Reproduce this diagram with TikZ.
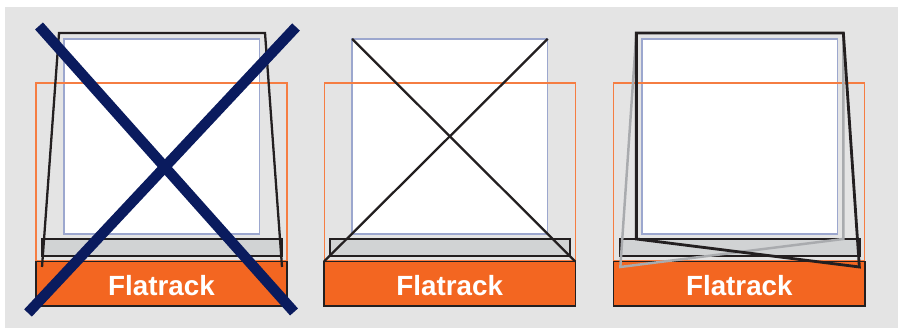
\documentclass[tikz,border=0pt]{standalone}
\usepackage{fontspec}
\setmainfont{Liberation Sans}
\usepackage{xcolor}
\definecolor{rackorange}{HTML}{F36621}
\definecolor{backgrey}{HTML}{E4E4E4}
\definecolor{bargrey}{HTML}{D1D3D4}
\definecolor{cargoblue}{HTML}{9CA7CE}
\definecolor{crossnavy}{HTML}{0A1B5E}
\definecolor{lashgrey}{HTML}{A9ABAE}
\definecolor{lashblack}{HTML}{231F20}
\tikzset{
  rack/.style={draw=lashblack,fill=rackorange,line width=0.4pt,outer sep=0pt,inner sep=0pt,
    minimum width=2.51cm,minimum height=0.445cm,text=white,text height=6.5pt,text depth=0pt,
    font=\bfseries\fontsize{7.9}{9}\selectfont},
  cargo/.style={draw=cargoblue,fill=white,line width=0.35pt,outer sep=0pt,
    minimum width=1.955cm,minimum height=1.95cm},
  frame/.style={draw=rackorange!85!white,line width=0.3pt},
  bar/.style={draw=lashblack,fill=bargrey,line width=0.4pt},
  lash/.style={draw=lashblack,line width=0.65pt,line join=miter},
  lashthick/.style={draw=lashblack,line width=0.8pt,line join=miter},
  lashpale/.style={draw=lashgrey,line width=0.7pt,line join=miter},
  cross/.style={draw=crossnavy,line width=3pt}
}
\begin{document}
\begin{tikzpicture}[x=0.01cm,y=0.01cm]
  \useasboundingbox (0,0) rectangle (902,328);
  \fill[white] (0,0) rectangle (902,328);
  \fill[backgrey] (5,0) rectangle (898,321);
  % left
  \begin{scope}[xshift=0.36cm,yshift=0.22cm]
    \node[cargo] (cargo1) at (125.7,169.5) {};
    \draw[frame] (0,45) rectangle (251,223);
    \draw[bar] (6,50) rectangle (246,67);
    \node[rack] (rack1) at (125.5,22.3) {Flatrack};
    \draw[lash] (6,39) -- (23,273) -- (229,273) -- (246,39);
    \draw[cross] (3,280) -- (258,-6);
    \draw[cross] (260,279) -- (-8,-7);
  \end{scope}
  % middle
  \begin{scope}[xshift=3.24cm,yshift=0.22cm]
    \node[cargo] (cargo2) at (125.7,169.5) {};
    \draw[frame] (0,45) rectangle (251,223);
    \draw[bar] (6,50) rectangle (246,67);
    \node[rack] (rack2) at (125.5,22.3) {Flatrack};
    \draw[lash] (cargo2.north west) -- (rack2.north east);
    \draw[lash] (cargo2.north east) -- (rack2.north west);
  \end{scope}
  % right
  \begin{scope}[xshift=6.135cm,yshift=0.22cm]
    \node[cargo] (cargo3) at (126,169.5) {};
    \draw[frame] (0,45) rectangle (251,223);
    \draw[bar] (6,50) rectangle (246,67);
    \node[rack] (rack3) at (125.5,22.3) {Flatrack};
    \draw[lashpale] (22.5,273) -- (6.5,39) -- (229.5,67) -- (229.5,273);
    \draw[lashthick] (22.5,67) -- (22.5,273) -- (229.5,273) -- (245.5,39) -- cycle;
  \end{scope}
\end{tikzpicture}
\end{document}
